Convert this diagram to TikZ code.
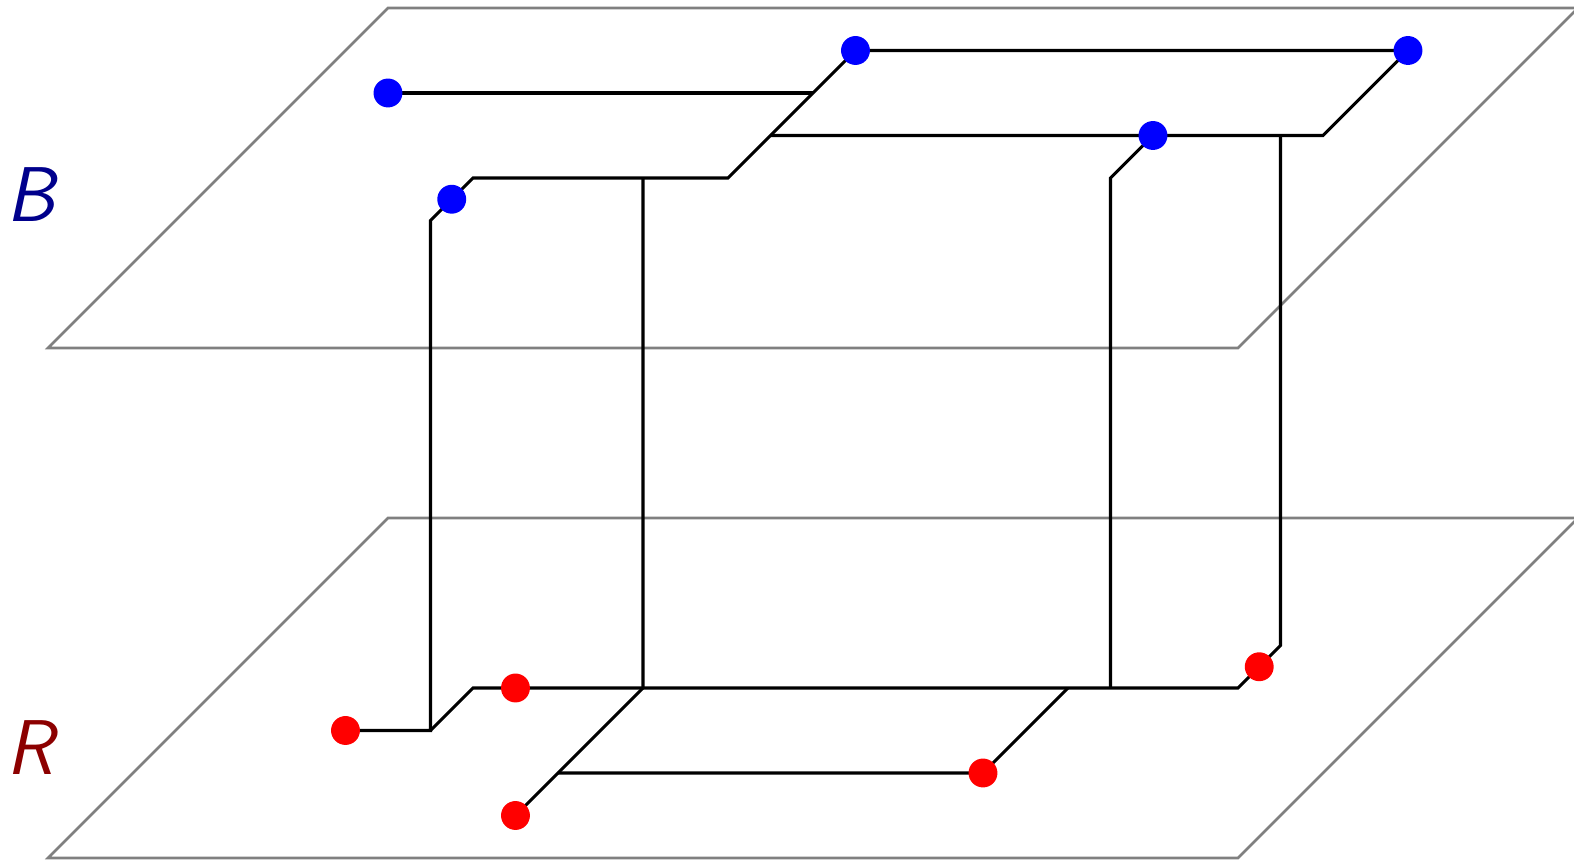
\documentclass[tikz,border=0pt]{standalone}
\usepackage{fontspec}
\definecolor{bcol}{RGB}{0,0,140}
\definecolor{rcol}{RGB}{140,0,0}
\definecolor{pgray}{RGB}{128,128,128}
\begin{document}
\begin{tikzpicture}[x=0.5cm,y=0.5cm,
  plane/.style={draw=pgray, line width=0.85pt, line join=miter},
  wire/.style={draw=black, line width=1.05pt, line join=miter},
  bdot/.style={circle, fill=blue, inner sep=0pt, minimum size=0.34cm},
  rdot/.style={circle, fill=red, inner sep=0pt, minimum size=0.34cm},
  lab/.style={font=\fontsize{26}{30}\selectfont\sffamily\itshape, inner sep=0pt}]
\clip (-1.129,-0.141) rectangle (35.906,20.188);
% planes
\draw[plane] (0,0) -- (28,0) -- (36,8) -- (8,8) -- cycle;
\draw[plane] (0,12) -- (28,12) -- (36,20) -- (8,20) -- cycle;
% labels
\node[lab, text=bcol] (LB) at (-0.4,15.6) {B};
\node[lab, text=rcol] (LR) at (-0.42,2.6) {R};
% points
\coordinate (b1) at (8,18);
\coordinate (b2) at (19,19);
\coordinate (b3) at (32,19);
\coordinate (b4) at (26,17);
\coordinate (b5) at (9.5,15.5);
\coordinate (r1) at (7,3);
\coordinate (r2) at (11,4);
\coordinate (r3) at (28.5,4.5);
\coordinate (r4) at (22,2);
\coordinate (r5) at (11,1);
% bends
\coordinate (j1) at (18,18);
\coordinate (j2) at (30,17);
\coordinate (j3) at (17,17);
\coordinate (j4) at (16,16);
\coordinate (j5) at (10,16);
\coordinate (j6) at (9,15);
\coordinate (j7) at (9,3);
\coordinate (j8) at (10,4);
\coordinate (j9) at (28,4);
\coordinate (j10) at (29,5);
\coordinate (j11) at (29,17);
\coordinate (j12) at (25,16);
\coordinate (j13) at (25,4);
\coordinate (j14) at (14,16);
\coordinate (j15) at (14,4);
\coordinate (j16) at (12,2);
\coordinate (j17) at (24,4);
% wires
\draw[wire] (b1) -- (j1);
\draw[wire] (b2) -- (b3) -- (j2) -- (j3);
\draw[wire] (b2) -- (j4) -- (j5) -- (b5) -- (j6) -- (j7) -- (r1);
\draw[wire] (j7) -- (j8) -- (r2) -- (j9) -- (r3) -- (j10) -- (j11);
\draw[wire] (b4) -- (j12) -- (j13);
\draw[wire] (j14) -- (j15) -- (r5);
\draw[wire] (j16) -- (r4) -- (j17);
% dots
\foreach \p in {b1,b2,b3,b4,b5} \node[bdot] at (\p) {};
\foreach \p in {r1,r2,r3,r4,r5} \node[rdot] at (\p) {};
\end{tikzpicture}
\end{document}
